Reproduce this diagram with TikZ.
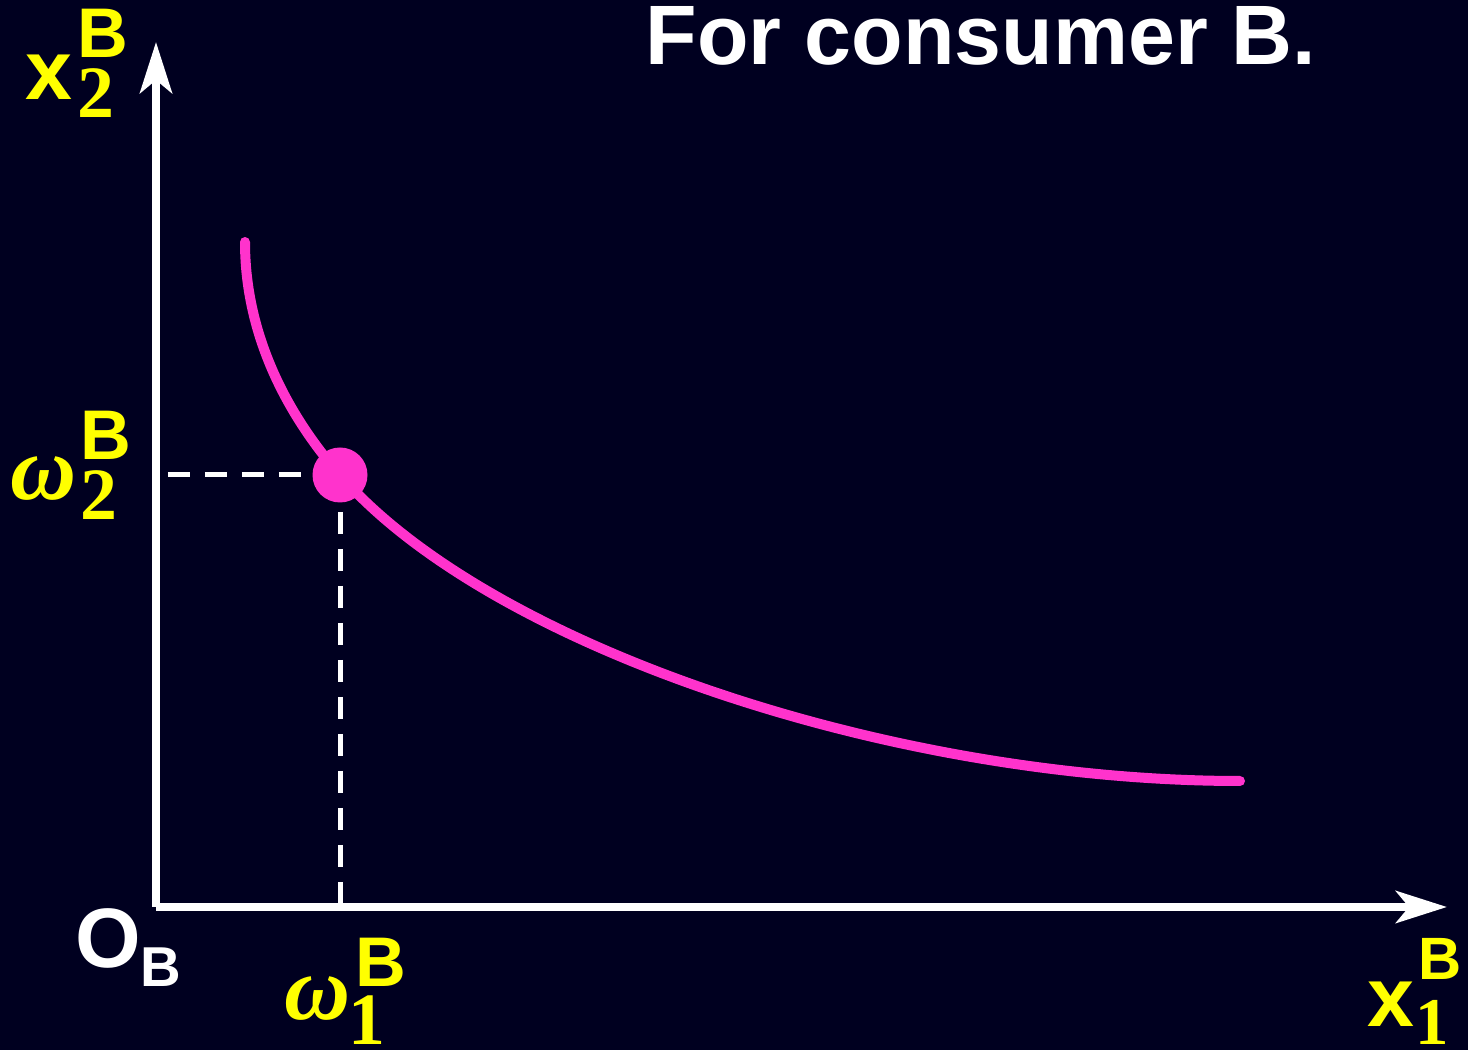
\documentclass[tikz,border=0pt]{standalone}
\usepackage{fontspec}
\setmainfont{Liberation Sans}
\newfontfamily\numfont{Liberation Serif}
\usetikzlibrary{arrows.meta}

\definecolor{bgnavy}{RGB}{0,0,32}
\definecolor{icpink}{RGB}{255,51,204}
\definecolor{lblyellow}{RGB}{255,255,0}

\tikzset{
  axis/.style={draw=white, line width=0.08cm,
    -{Stealth[length=0.51cm, width=0.32cm, inset=0.13cm]}},
  dashline/.style={draw=white, line width=0.05cm, dash pattern=on 0.22cm off 0.15cm},
  indiff/.style={draw=icpink, line width=0.1cm, line cap=round},
  endowdot/.style={circle, fill=icpink, minimum size=0.55cm, inner sep=0},
  lbl/.style={inner sep=0, anchor=base west, text=lblyellow, font=\bfseries\fontsize{24}{24}\selectfont},
  suplbl/.style={lbl, font=\bfseries\fontsize{20}{20}\selectfont},
  numlbl/.style={lbl, font=\numfont\bfseries\fontsize{21}{21}\selectfont},
  greeklbl/.style={lbl, font=\numfont\bfseries\itshape\fontsize{26}{26}\selectfont},
}

\begin{document}
\begin{tikzpicture}
  \fill[bgnavy] (0,0) rectangle (14.68,10.5);
  \useasboundingbox (0,0) rectangle (14.68,10.5);

  % origin and reference points
  \coordinate (O) at (1.56,1.43);
  \coordinate (E) at (3.40,5.75);
  \coordinate (w2) at (1.68,5.75);
  \coordinate (w1) at (3.40,1.43);
  \coordinate (ytop) at (1.56,10.08);
  \coordinate (xend) at (14.47,1.43);

  % axes
  \draw[axis] (O) -- (ytop);
  \draw[axis] (O) -- (xend);

  % endowment guides
  \draw[dashline] (w2) -- (E);
  \draw[dashline] (E) -- (w1);

  % indifference curve through the endowment
  \draw[indiff] (2.45,8.08) .. controls (2.45,6.98) and (3.04,6.16) .. (E)
    .. controls (4.89,4.04) and (8.90,2.69) .. (12.40,2.69);
  \node[endowdot] (endow) at (E) {};

  % title
  \node[lbl, text=white] (title) at (6.45,9.85) {For consumer B.};

  % axis labels
  \node[lbl] (x2) at (0.25,9.50) {x};
  \node[suplbl] (x2sup) at (0.77,9.92) {B};
  \node[numlbl] (x2sub) at (0.77,9.32) {2};

  \node[lbl] (x1) at (13.67,0.23) {x};
  \node[suplbl, font=\bfseries\fontsize{17}{17}\selectfont] (x1sup) at (14.18,0.70) {B};
  \node[numlbl, font=\numfont\bfseries\fontsize{19}{19}\selectfont] (x1sub) at (14.15,0.05) {1};

  \node[lbl, text=white] (orig) at (0.75,0.82) {O};
  \node[suplbl, text=white, font=\bfseries\fontsize{16}{16}\selectfont] (origsub) at (1.40,0.63) {B};

  % endowment labels
  \node[greeklbl] (om2) at (0.10,5.50) {ω};
  \node[suplbl] (om2sup) at (0.80,5.90) {B};
  \node[numlbl] (om2sub) at (0.80,5.30) {2};

  \node[greeklbl] (om1) at (2.84,0.30) {ω};
  \node[suplbl] (om1sup) at (3.55,0.63) {B};
  \node[numlbl] (om1sub) at (3.48,0.05) {1};
\end{tikzpicture}
\end{document}
